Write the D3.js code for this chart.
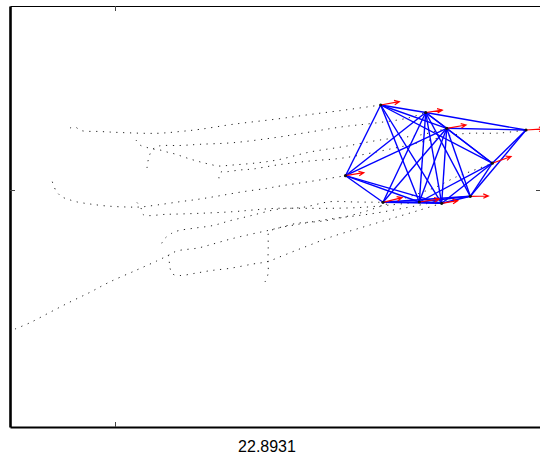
<!DOCTYPE html>
<html>
<head>
<meta charset="utf-8">
<script src="https://cdn.jsdelivr.net/npm/d3@7"></script>
<style>
  html, body { margin: 0; padding: 0; background: #fff; }
  svg { display: block; }
</style>
</head>
<body>
<div id="chart"></div>
<script>
// time shown under the plot
const timeLabel = "22.8931";

// agent positions at that time
const agentX = [265.7, 310.7, 331.7, 411, 377.3, 230.5, 268, 304.3, 326.7, 355.3];
const agentY = [85, 77.5, 61.7, 60, 26.8, 14.3, -12.3, -12, -13.3, -6.3];

// velocity of each agent (drawn as red arrows)
const velX = [18.6, 16.6, 19.3, 18, 18.7, 18.3, 19, 20, 16, 18];
const velY = [3.3, 2.3, 3.3, 1, 6.6, 3, 4.6, 3, 2.6, 0.3];

// communication links between agents
const links = [
    [0, 1], [0, 2], [0, 4], [0, 5], [0, 7], [0, 8],
    [1, 2], [1, 3], [1, 4], [1, 5], [1, 6], [1, 7], [1, 8], [1, 9],
    [2, 3], [2, 4], [2, 5], [2, 6], [2, 7], [2, 8], [2, 9],
    [3, 4], [3, 9],
    [4, 7], [4, 8], [4, 9],
    [5, 6], [5, 7], [5, 8],
    [6, 7], [6, 8], [6, 9],
    [7, 8], [7, 9], [8, 9]
];

// past trajectories, one per agent
const trail0 = [[-45,62],[-40,63],[-34,59.5],[-15,58.5],[5,57.5],[42,56.7],[65,58.5],[85,60.7],[118,65.7],[162,71],[195,75.5],[230,80],[265.7,85]];
const trail1 = [[32,22],[33,29],[35,36],[38,41],[44,44],[65,44.5],[85,45.7],[118,47.3],[162,52.7],[195,58],[228,63.3],[258,66.7],[291.7,71.7],[310.7,77.5]];
const trail2 = [[21,50],[25,45],[32,42.5],[38,41],[45,40],[53,37.7],[60,36],[68,33.3],[75,31],[82,29],[88,27.3],[95,25.7],[103,24],[110,24.3],[118,25],[138,26.7],[162,30],[195,38],[228,43.3],[265,50],[305,55],[331.7,61.7]];
const trail3 = [[104,11.7],[104,15],[106,18],[112,18.3],[125,20],[138,21],[162,25],[195,29],[228,32],[285,43],[345,56],[385,57],[411,60]];
const trail4 = [[-100,-139],[-85,-132.7],[-65,-122.3],[-45,-112],[-25,-102.3],[-6,-92.3],[21.7,-80],[41.7,-71],[53,-65.5],[62,-61],[83,-58],[98,-54],[112,-50],[125,-46.7],[140,-43.3],[155,-40],[168,-36.7],[182,-33.3],[202,-31.7],[215,-30],[245,-23],[275,-13],[305,-3],[321.7,3.3],[341.7,13.3],[355,18.3],[377.3,26.8]];
const trail5 = [[-62.7,8.3],[-59,-0.7],[-53.3,-6.7],[-46.7,-9.3],[-39,-11.7],[-25,-14],[-8.3,-16],[11.7,-17],[25,-17],[42,-15],[65,-11.7],[85,-9],[105,-5.7],[128,-1.7],[152,1.7],[165,4],[195,8.5],[230.5,14.3]];
const trail6 = [[46.7,-53.3],[50,-48.3],[56.7,-43.3],[63.3,-40.7],[78.3,-38.3],[98,-35.5],[115,-30.7],[131.7,-26.7],[145,-23.3],[162,-19.3],[188,-17.3],[215,-11.7],[240,-12],[268,-12.3]];
const trail7 = [[22,-12.5],[26,-18],[28,-24.5],[52,-24.3],[85,-23.3],[118,-21.7],[138,-20],[162,-18.3],[188,-18.3],[215,-18.3],[245,-17.5],[275,-15],[304.3,-12]];
const trail8 = [[53.3,-65],[54.3,-72],[55,-78],[57.7,-84],[65,-85.5],[80,-83.3],[95,-80.7],[115,-78.3],[138,-74],[152,-71.7],[167,-66],[182,-60],[195,-55],[215,-47.3],[245,-38],[275,-29],[305,-20],[326.7,-13.3]];
const trail9 = [[150,-92],[153,-84],[153,-70],[153.3,-55],[154,-42],[162,-38.5],[182,-34.5],[215,-29],[255,-24],[295,-17],[325,-11],[355.3,-6.3]];
const trails = [trail0, trail1, trail2, trail3, trail4, trail5, trail6, trail7, trail8, trail9];

const xTicks = [0];
const yTicks = [0];

const W = 540, H = 455;
const svg = d3.select("#chart").append("svg").attr("width", W).attr("height", H);

const x = d3.scaleLinear().domain([-105, 426]).range([10, 541]);
const y = d3.scaleLinear().domain([-237, 184]).range([427, 6]);

const plot = svg.append("g");

// trajectories (dotted)
const line = d3.line().x(d => x(d[0])).y(d => y(d[1])).curve(d3.curveCatmullRom);
plot.selectAll(".trail").data(trails).enter().append("path")
    .attr("class", "trail")
    .attr("d", line)
    .attr("fill", "none")
    .attr("stroke", "#222")
    .attr("stroke-width", 1)
    .attr("stroke-dasharray", "1.2 5.6");

// links
plot.selectAll(".link").data(links).enter().append("line")
    .attr("class", "link")
    .attr("x1", d => x(agentX[d[0]])).attr("y1", d => y(agentY[d[0]]))
    .attr("x2", d => x(agentX[d[1]])).attr("y2", d => y(agentY[d[1]]))
    .attr("stroke", "#0000ff")
    .attr("stroke-width", 1.4);

// velocity arrows
const agents = d3.range(agentX.length);
const headLen = 5.5, headAng = 0.42;
const arrows = plot.selectAll(".arrow").data(agents).enter().append("g").attr("class", "arrow")
    .attr("stroke", "#ff0000").attr("stroke-width", 1.2).attr("fill", "none");
arrows.append("path").attr("d", i => {
    const x0 = x(agentX[i]), y0 = y(agentY[i]);
    const x1 = x(agentX[i] + velX[i]), y1 = y(agentY[i] + velY[i]);
    const a = Math.atan2(y1 - y0, x1 - x0);
    const bx1 = x1 - headLen * Math.cos(a - headAng), by1 = y1 - headLen * Math.sin(a - headAng);
    const bx2 = x1 - headLen * Math.cos(a + headAng), by2 = y1 - headLen * Math.sin(a + headAng);
    return `M${x0},${y0}L${x1},${y1}M${bx1},${by1}L${x1},${y1}L${bx2},${by2}`;
});

// agent markers
plot.selectAll(".agent").data(agents).enter().append("circle")
    .attr("class", "agent")
    .attr("cx", i => x(agentX[i])).attr("cy", i => y(agentY[i]))
    .attr("r", 1.6).attr("fill", "#111");

// axes box with inward ticks, no labels
const noLabel = () => "";
const gB = svg.append("g").attr("transform", `translate(0,${y.range()[0]})`)
    .call(d3.axisBottom(x).tickValues(xTicks).tickSizeInner(-5).tickSizeOuter(0).tickFormat(noLabel));
const gT = svg.append("g").attr("transform", `translate(0,${y.range()[1]})`)
    .call(d3.axisTop(x).tickValues(xTicks).tickSizeInner(-5).tickSizeOuter(0).tickFormat(noLabel));
const gL = svg.append("g").attr("transform", `translate(${x.range()[0]},0)`)
    .call(d3.axisLeft(y).tickValues(yTicks).tickSizeInner(-5).tickSizeOuter(0).tickFormat(noLabel));
const gR = svg.append("g").attr("transform", `translate(${x.range()[1]},0)`)
    .call(d3.axisRight(y).tickValues(yTicks).tickSizeInner(-5).tickSizeOuter(0).tickFormat(noLabel));

[gB, gT, gL, gR].forEach(g => {
    g.selectAll(".tick line").attr("stroke", "#444").attr("stroke-width", 1);
    g.select(".domain").attr("stroke", "#000");
});
gL.select(".domain").attr("stroke-width", 2.6);
gB.select(".domain").attr("stroke-width", 2);
gT.select(".domain").attr("stroke-width", 1.2);

svg.append("text")
    .attr("x", 267).attr("y", 452)
    .attr("text-anchor", "middle")
    .style("font-family", "'Liberation Sans', Arial, Helvetica, sans-serif")
    .style("font-size", "16px")
    .style("fill", "#000")
    .text(timeLabel);
</script>
</body>
</html>
